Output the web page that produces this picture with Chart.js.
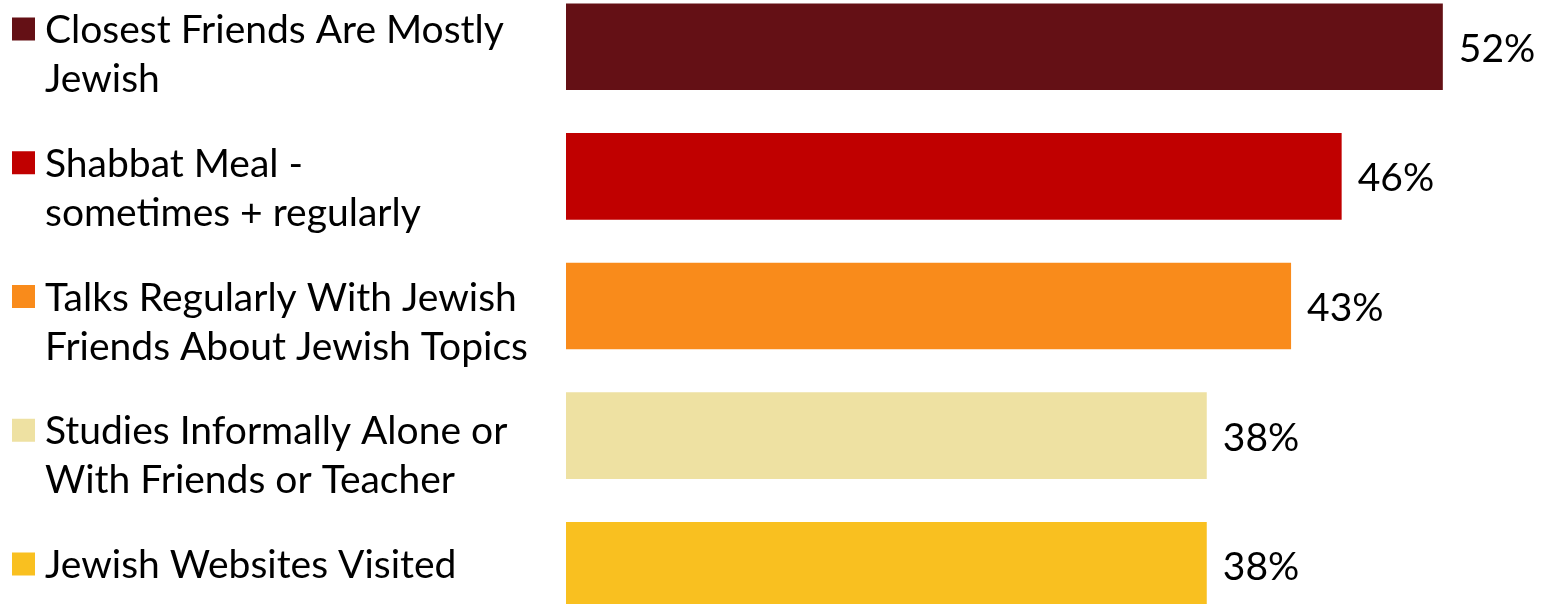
<!DOCTYPE html>
<html>
<head>
<meta charset="utf-8">
<script src="https://cdn.jsdelivr.net/npm/chart.js@4.4.0/dist/chart.umd.min.js"></script>
<style>
  html, body { margin: 0; padding: 0; background: #fff; overflow: hidden; }
  #wrap { position: absolute; left: 0; top: -18px; width: 1544px; height: 648px; }
</style>
</head>
<body>
<div id="wrap"><canvas id="bar-chart"></canvas></div>
<script>
var categories = [
  ["Closest Friends Are Mostly", "Jewish"],
  ["Shabbat Meal -", "sometimes + regularly"],
  ["Talks Regularly With Jewish", "Friends About Jewish Topics"],
  ["Studies Informally Alone or", "With Friends or Teacher"],
  ["Jewish Websites Visited"]
];
var shares = [52, 46, 43, 38, 38];
var barColors = ["#641015", "#C00000", "#F98B1B", "#EEE1A2", "#F9C020"];

var FONT = "39px Lato";

// legend list down the left side, square + wrapped text per row
var sideLegend = {
  id: 'sideLegend',
  afterDraw: function(chart) {
    var ctx = chart.ctx;
    var top = 47, step = 133.75, lineGap = 49;
    ctx.save();
    ctx.font = FONT;
    ctx.textBaseline = 'alphabetic';
    ctx.textAlign = 'left';
    chart.data.labels.forEach(function(lines, i) {
      var cy = top + i * step;
      ctx.fillStyle = barColors[i];
      ctx.fillRect(12, cy - 11.5, 23, 23);
      ctx.fillStyle = '#000';
      lines.forEach(function(t, j) {
        ctx.fillText(t, 45, cy + 14 + j * lineGap);
      });
    });
    ctx.restore();
  }
};

// percentage printed just past the end of each bar
var valueLabels = {
  id: 'valueLabels',
  afterDatasetsDraw: function(chart) {
    var ctx = chart.ctx;
    var meta = chart.getDatasetMeta(0);
    ctx.save();
    ctx.font = FONT;
    ctx.fillStyle = '#000';
    ctx.textAlign = 'left';
    ctx.textBaseline = 'alphabetic';
    meta.data.forEach(function(bar, i) {
      ctx.fillText(shares[i] + '%', bar.x + 16, bar.y + 15);
    });
    ctx.restore();
  }
};

var myChart = new Chart(document.getElementById('bar-chart'), {
  type: 'bar',
  data: {
    labels: categories,
    datasets: [{
      data: shares,
      backgroundColor: barColors,
      barPercentage: 0.668,
      categoryPercentage: 1
    }]
  },
  options: {
    indexAxis: 'y',
    responsive: true,
    maintainAspectRatio: false,
    animation: false,
    layout: { padding: { left: 566, right: 0, top: 0, bottom: 0 } },
    plugins: {
      legend: { display: false },
      tooltip: { enabled: false }
    },
    scales: {
      x: { display: false, min: 0, max: 58 },
      y: { display: false }
    }
  },
  plugins: [sideLegend, valueLabels]
});
</script>
</body>
</html>
